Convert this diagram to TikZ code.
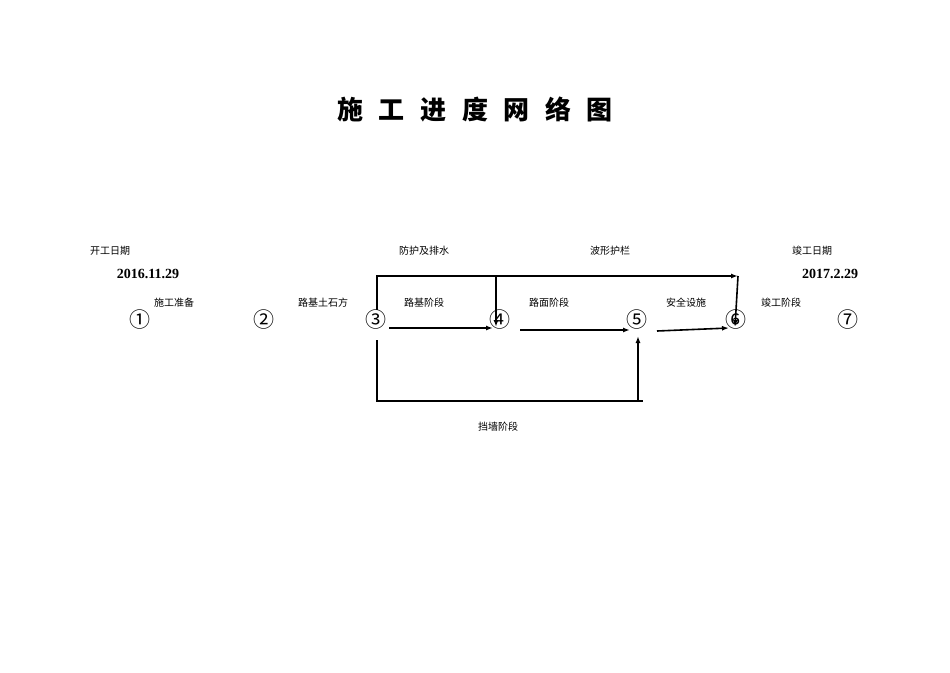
\documentclass[tikz,border=0pt]{standalone}
\usepackage{fontspec}
\setmainfont{Liberation Serif}
\newfontfamily\cjk{Noto Sans CJK SC}
\usetikzlibrary{arrows.meta}
\begin{document}
\begin{tikzpicture}[x=1pt,y=-1pt,
  lbl/.style={font=\cjk\fontsize{10}{12}\selectfont,inner sep=0},
  num/.style={font=\cjk\fontsize{21}{22}\selectfont,inner sep=0},
  dt/.style={font=\bfseries\fontsize{14}{16}\selectfont,inner sep=0},
  ln/.style={line width=1.6pt,-{Latex[length=7pt,width=5pt]}},
  pl/.style={line width=1.6pt}]
\useasboundingbox (0,0) rectangle (950,672);
\node[font=\cjk\bfseries\fontsize{26}{28}\selectfont] (title) at (475,110) {施\hspace{0.6em}工\hspace{0.6em}进\hspace{0.6em}度\hspace{0.6em}网\hspace{0.6em}络\hspace{0.6em}图};
\node[num] (n1) at (140,320) {①};
\node[num] (n2) at (264,320) {②};
\node[num] (n3) at (376,320) {③};
\node[num] (n4) at (500,320) {④};
\node[num] (n5) at (637,320) {⑤};
\node[num] (n6) at (736,320) {⑥};
\node[num] (n7) at (848,320) {⑦};
\node[lbl] (l1) at (110,251) {开工日期};
\node[dt] (d1) at (148,274) {2016.11.29};
\node[lbl] (l2) at (812,251) {竣工日期};
\node[dt] (d2) at (830,274) {2017.2.29};
\node[lbl] (a1) at (174,303) {施工准备};
\node[lbl] (a2) at (323,303) {路基土石方};
\node[lbl] (a3) at (424,303) {路基阶段};
\node[lbl] (a4) at (549,303) {路面阶段};
\node[lbl] (a5) at (686,303) {安全设施};
\node[lbl] (a6) at (781,303) {竣工阶段};
\node[lbl] (b1) at (424,251) {防护及排水};
\node[lbl] (b2) at (610,251) {波形护栏};
\node[lbl] (b3) at (498,427) {挡墙阶段};
\coordinate (t3) at (377,276);
\coordinate (t4) at (496,276);
\coordinate (t6) at (738,276);
\coordinate (bl) at (377,401);
\coordinate (br) at (643,401);
\draw[pl] (n3.north -| t3) -- (t3) -- (t4);
\draw[ln] (t4) -- (t6);
\draw[ln] (t4) -- (496,327);
\draw[ln] (t6) -- (735,327);
\draw[ln] (389,328) -- (493,328);
\draw[ln] (520,330) -- (630,330);
\draw[ln] (657,331) -- (729,328);
\draw[pl] (377,340) -- (bl) -- (br);
\draw[ln] (638,401) -- (638,336);
\end{tikzpicture}
\end{document}
